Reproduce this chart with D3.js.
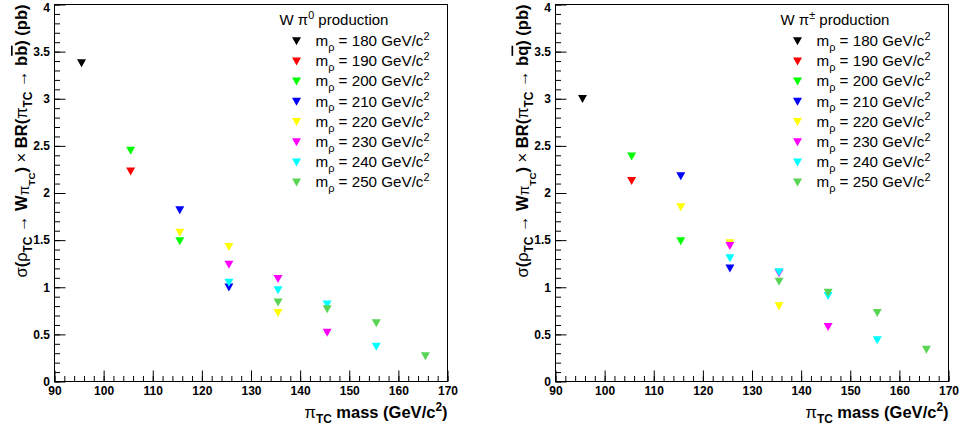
<!DOCTYPE html>
<html>
<head>
<meta charset="utf-8">
<script src="https://cdn.jsdelivr.net/npm/d3@7"></script>
<style>
  body { margin: 0; background: #fff; }
  svg { display: block; font-family: "Liberation Sans", Arial, Helvetica, sans-serif; }
  .tick text { font-weight: bold; font-size: 12px; fill: #000; }
</style>
</head>
<body>
<svg id="chart" width="959" height="433"></svg>
<script>
// rho_TC masses (one series each) and their ROOT colours
const rhoMasses = [180, 190, 200, 210, 220, 230, 240, 250];
const seriesColors = ['#000000', '#ff0000', '#00ff00', '#0000ff', '#ffff00', '#ff00ff', '#00ffff', '#59d454'];

// pi_TC masses used by each series
const seriesPiMasses = [
    [95.5],
    [105.5],
    [105.5, 115.5],
    [115.5, 125.5],
    [115.5, 125.5, 135.5],
    [125.5, 135.5, 145.5],
    [125.5, 135.5, 145.5, 155.5],
    [135.5, 145.5, 155.5, 165.5]
];

// W pi0 production, sigma x BR (pb)
const neutralValues = [
    [3.38],
    [2.23],
    [2.45, 1.49],
    [1.82, 1.00],
    [1.58, 1.43, 0.73],
    [1.24, 1.09, 0.52],
    [1.05, 0.97, 0.82, 0.37],
    [0.84, 0.77, 0.62, 0.27]
];

// W pi+- production, sigma x BR (pb)
const chargedValues = [
    [3.00],
    [2.13],
    [2.39, 1.49],
    [2.18, 1.20],
    [1.85, 1.47, 0.80],
    [1.44, 1.15, 0.58],
    [1.31, 1.16, 0.91, 0.44],
    [1.06, 0.945, 0.73, 0.34]
];

const xTicks = [90, 100, 110, 120, 130, 140, 150, 160, 170];
const yTicks = [0, 0.5, 1, 1.5, 2, 2.5, 3, 3.5, 4];

const svg = d3.select('#chart');

// write a piece of rich text made of segments into a <text>
// seg: {t, bold, sub, sup, small, over}
function richText(textSel, segs, baseSize) {
    let shift = 0;
    segs.forEach(s => {
        const ts = textSel.append('tspan').text(s.t);
        let size = baseSize;
        let target = 0;
        if (s.sub) { size = baseSize * 0.72; target = baseSize * 0.32; }
        if (s.sub2) { size = baseSize * 0.6; target = baseSize * 0.5; }
        if (s.small) { size = baseSize * 0.85; target = baseSize * 0.12; }
        if (s.sup) { size = baseSize * 0.72; target = -baseSize * 0.42; }
        ts.attr('font-size', size)
          .attr('font-weight', s.bold ? 'bold' : 'normal');
        if (target !== shift) { ts.attr('dy', target - shift); shift = target; }
        if (s.over) ts.style('text-decoration', 'overline');
    });
}

function drawPanel(opts) {
    const {left, right, top, bottom, values, header, decay, titleX} = opts;

    const x = d3.scaleLinear().domain([90, 170]).range([left, right]);
    const y = d3.scaleLinear().domain([0, 4]).range([bottom, top]);

    const g = svg.append('g');

    // minor ticks
    g.append('g')
        .attr('transform', `translate(0,${bottom})`)
        .call(d3.axisBottom(x).tickValues(d3.range(90, 170.1, 2)).tickSize(-5.5).tickFormat(''))
        .call(a => a.select('.domain').remove());
    g.append('g')
        .attr('transform', `translate(${left},0)`)
        .call(d3.axisLeft(y).tickValues(d3.range(0, 40.1, 1).map(v => v / 10)).tickSize(-5.5).tickFormat(''))
        .call(a => a.select('.domain').remove());

    // major ticks + labels
    g.append('g')
        .attr('transform', `translate(0,${bottom})`)
        .call(d3.axisBottom(x).tickValues(xTicks).tickSize(-11).tickPadding(5).tickFormat(d => d))
        .call(a => a.select('.domain').remove());
    const yAxis = g.append('g')
        .attr('transform', `translate(${left},0)`)
        .call(d3.axisLeft(y).tickValues(yTicks).tickSize(-11).tickPadding(4.5).tickFormat(d => d))
        .call(a => a.select('.domain').remove());
    // keep the top label inside the picture
    yAxis.selectAll('.tick text').filter(d => d === 4).attr('dy', '0.62em');

    g.selectAll('.tick line').attr('stroke', '#000');

    // frame
    g.append('rect')
        .attr('x', left).attr('y', top)
        .attr('width', right - left).attr('height', bottom - top)
        .attr('fill', 'none').attr('stroke', '#000').attr('stroke-width', 1);

    // down-pointing triangle marker
    const tri = 'M-4.5,-3.8L4.5,-3.8L0,4.2Z';

    values.forEach((vals, si) => {
        g.append('g').selectAll('path')
            .data(vals.map((v, i) => [seriesPiMasses[si][i], v]))
            .join('path')
            .attr('d', tri)
            .attr('transform', d => `translate(${x(d[0])},${y(d[1])})`)
            .attr('fill', seriesColors[si]);
    });

    // legend
    const legX = right - 168;
    const hdr = g.append('text').attr('x', legX).attr('y', 25).attr('fill', '#000');
    richText(hdr, header, 15);

    rhoMasses.forEach((m, i) => {
        const cy = 41 + i * 20.2;
        g.append('path')
            .attr('d', tri)
            .attr('transform', `translate(${legX + 17},${cy})`)
            .attr('fill', seriesColors[i]);
        const t = g.append('text').attr('x', legX + 36).attr('y', cy + 5).attr('fill', '#000');
        richText(t, [
            {t: 'm'}, {t: 'ρ', sub: true}, {t: ' = ' + m + ' GeV/c'}, {t: '2', sup: true}
        ], 15.2);
    });

    // x title
    const xt = g.append('text').attr('x', right).attr('y', 418)
        .attr('text-anchor', 'end').attr('fill', '#000');
    richText(xt, [
        {t: 'π'}, {t: 'TC', sub: true, bold: true}, {t: ' mass (GeV/c', bold: true},
        {t: '2', sup: true, bold: true}, {t: ')', bold: true}
    ], 16.5);

    // y title
    const yt = g.append('text')
        .attr('transform', `translate(${titleX},${top}) rotate(-90)`)
        .attr('text-anchor', 'end').attr('fill', '#000');
    richText(yt, [
        {t: 'σ'}, {t: '(', bold: true}, {t: 'ρ'}, {t: 'TC', sub: true, bold: true},
        {t: ' → '}, {t: 'W', bold: true}, {t: 'π', small: true}, {t: 'TC', sub2: true, bold: true},
        {t: ')', bold: true}, {t: ' × '}, {t: 'BR(', bold: true}, {t: 'π'},
        {t: 'TC', sub: true, bold: true}, {t: ' → '}
    ].concat(decay).concat([{t: ') (pb)', bold: true}]), 16.5);
}

drawPanel({
    left: 54.5, right: 447.5, top: 4.5, bottom: 381.5,
    values: neutralValues,
    header: [{t: 'W '}, {t: 'π'}, {t: '0', sup: true}, {t: ' production'}],
    decay: [{t: 'b', bold: true}, {t: 'b', bold: true, over: true}],
    titleX: 27
});

drawPanel({
    left: 555.5, right: 948.5, top: 4.5, bottom: 381.5,
    values: chargedValues,
    header: [{t: 'W '}, {t: 'π'}, {t: '±', sup: true}, {t: ' production'}],
    decay: [{t: 'b', bold: true}, {t: 'q', bold: true, over: true}],
    titleX: 527.5
});
</script>
</body>
</html>
